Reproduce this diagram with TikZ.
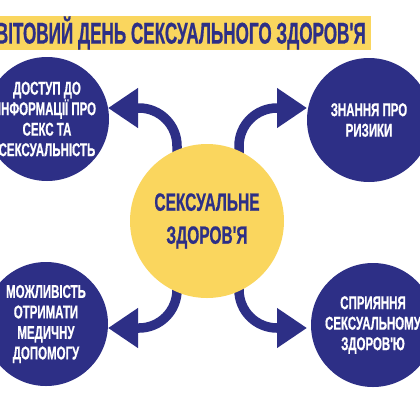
\documentclass[tikz,border=0pt]{standalone}
\usepackage{fontspec}
\newfontfamily\condfont{Liberation Sans}[UprightFont=* Bold, FakeStretch=0.62, FakeBold=0.6]
\newfontfamily\titlefont{Liberation Sans}[UprightFont=* Bold, FakeStretch=0.57, FakeBold=0.6]
\usetikzlibrary{arrows.meta}
\definecolor{navy}{HTML}{2D2F86}
\definecolor{sun}{HTML}{FAD65E}
\tikzset{
  outer/.style={circle, fill=navy, text=white, inner sep=0pt, align=center,
    minimum size=124pt, font=\condfont\fontsize{18.5}{20.5}\selectfont},
  arr/.style={draw=navy, line width=9.5pt,
    -{Triangle[length=30pt,width=38pt]}},
}
\begin{document}
\begin{tikzpicture}[x=1pt,y=-1pt]
\useasboundingbox (0,0) rectangle (420,405);
\fill[white] (0,0) rectangle (420,405);
\clip (0,0) rectangle (420,405);
% title
\fill[sun] (-2,16) rectangle (371,50);
\node[anchor=east, text=navy, inner sep=0pt, font=\titlefont\fontsize{30}{31}\selectfont] (title) at (366,33) {СВІТОВИЙ ДЕНЬ СЕКСУАЛЬНОГО ЗДОРОВ'Я};
% outer circles
\node[outer] (tl) at (47,119) {ДОСТУП ДО\\ІНФОРМАЦІЇ ПРО\\СЕКС ТА\\СЕКСУАЛЬНІСТЬ};
\node[outer] (tr) at (369,120) {ЗНАННЯ ПРО\\РИЗИКИ};
\node[outer] (bl) at (46,324) {МОЖЛИВІСТЬ\\ОТРИМАТИ\\МЕДИЧНУ\\ДОПОМОГУ};
\node[outer] (br) at (373,325) {СПРИЯННЯ\\СЕКСУАЛЬНОМУ\\ЗДОРОВ'Ю};
% arrow anchors
\coordinate (s1) at (177,160);
\coordinate (s2) at (239,160);
\coordinate (s3) at (177,280);
\coordinate (s4) at (239,280);
\coordinate (t1) at (108,108);
\coordinate (t2) at (307,108);
\coordinate (t3) at (108,328);
\coordinate (t4) at (307,328);
\draw[arr] (s1) -- (177,146) arc[start angle=0, end angle=-90, radius=38] -- (t1);
\draw[arr] (s2) -- (239,146) arc[start angle=180, end angle=270, radius=38] -- (t2);
\draw[arr] (s3) -- (177,290) arc[start angle=0, end angle=90, radius=38] -- (t3);
\draw[arr] (s4) -- (239,290) arc[start angle=180, end angle=90, radius=38] -- (t4);
% centre
\node[circle, fill=sun, minimum size=154pt, inner sep=0pt, text=navy, align=center,
  font=\condfont\fontsize{25}{33}\selectfont] (c) at (207,221) {СЕКСУАЛЬНЕ\\ЗДОРОВ'Я};
\end{tikzpicture}
\end{document}
